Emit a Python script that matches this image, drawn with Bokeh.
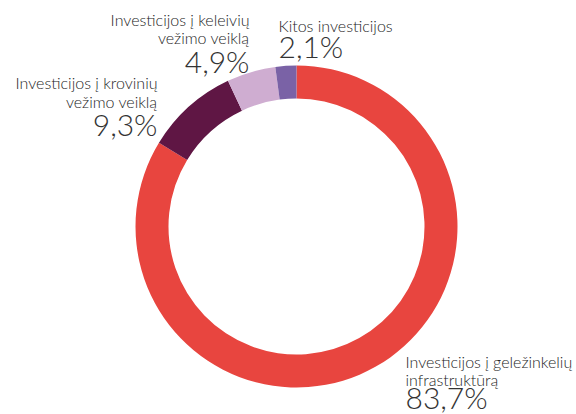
from bokeh.plotting import figure
from bokeh.models import Range1d, ColumnDataSource
from bokeh.core.properties import value
from bokeh.embed import file_html
from bokeh.resources import INLINE
import math

# ---- data ----
categories = [
    "Investicijos į geležinkelių infrastruktūrą",
    "Investicijos į krovinių vežimo veiklą",
    "Investicijos į keleivių vežimo veiklą",
    "Kitos investicijos",
]
label_lines = [
    ["Investicijos į geležinkelių", "infrastruktūrą"],
    ["Investicijos į krovinių", "vežimo veiklą"],
    ["Investicijos į keleivių", "vežimo veiklą"],
    ["Kitos investicijos"],
]
shares = [83.7, 9.3, 4.9, 2.1]
colors = ["#E8453F", "#5F1644", "#CFADD1", "#7A62A6"]

# ---- layout (image pixel coords, y measured from top) ----
W, H = 576, 414
cx, cy = 296, 226
r_out, r_in = 161, 128
SMALL, BIG = 16, 30
SHIFT = 0.4  # empirical baseline correction, in em

def Y(img_y):
    return H - img_y

p = figure(width=W, height=H, output_backend="svg", toolbar_location=None,
           x_range=Range1d(0, W), y_range=Range1d(0, H),
           min_border=0, outline_line_color=None, background_fill_color="white",
           border_fill_color="white")
p.axis.visible = False
p.grid.visible = False

total = sum(shares)
starts, ends = [], []
cum = 0.0
for s in shares:
    starts.append(math.pi / 2 - 2 * math.pi * cum / total)
    cum += s
    ends.append(math.pi / 2 - 2 * math.pi * cum / total)

src = ColumnDataSource(dict(x=[cx] * len(shares), y=[Y(cy)] * len(shares),
                            start=starts, end=ends, color=colors, cat=categories))
p.annular_wedge(x="x", y="y", inner_radius=r_in, outer_radius=r_out,
                start_angle="start", end_angle="end", direction="clock",
                fill_color="color", line_color=None, source=src)

# label placement: (anchor x, align, baselines for lines..., baseline for pct)
placements = [
    (405, "left", [367, 385], 408),
    (157, "right", [88, 107], 135),
    (249, "right", [25, 43], 72),
    (278, "left", [31], 57),
]

font = value("Lato Light, Lato")
for lines, share, (ax, align, bls, pbl) in zip(label_lines, shares, placements):
    for line, bl in zip(lines, bls):
        p.text(x=[ax], y=[Y(bl - SHIFT * SMALL)], text=[line], text_align=align,
               text_baseline="alphabetic", text_font=font,
               text_font_size=f"{SMALL}px", text_color="#262626")
    pct = f"{share:.1f}".replace(".", ",") + "%"
    p.text(x=[ax], y=[Y(pbl - SHIFT * BIG)], text=[pct], text_align=align,
           text_baseline="alphabetic", text_font=font,
           text_font_size=f"{BIG}px", text_color="#333333")

open("out.html", "w").write(file_html(p, INLINE))
